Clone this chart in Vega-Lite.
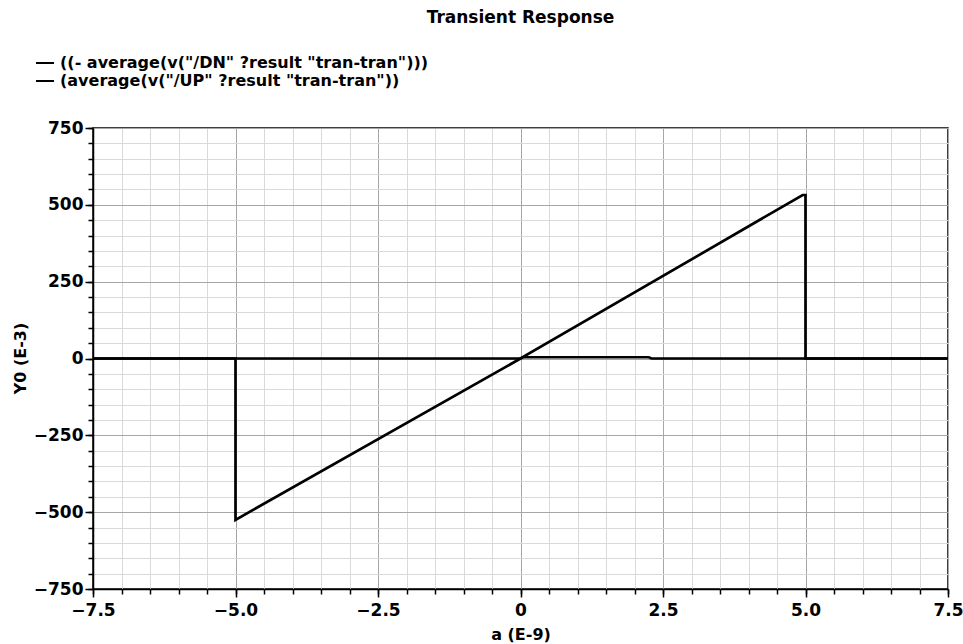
{
  "$schema": "https://vega.github.io/schema/vega-lite/v6.json",
  "autosize": {"type": "none"},
  "width": 855,
  "height": 461,
  "padding": {"left": 93, "top": 128, "right": 15, "bottom": 55},
  "background": "white",
  "title": {
    "text": "Transient Response",
    "anchor": "middle",
    "frame": "group",
    "orient": "top",
    "offset": 26,
    "font": "DejaVu Sans",
    "fontSize": 17,
    "fontWeight": "bold",
    "color": "black"
  },
  "config": {
    "font": "DejaVu Sans",
    "view": {"stroke": "black", "strokeWidth": 1.5}
  },
  "data": {
    "values": [
      {"series": "((- average(v(\"/DN\" ?result \"tran-tran\")))", "i": 1, "a": -7.5, "y": 0},
      {"series": "((- average(v(\"/DN\" ?result \"tran-tran\")))", "i": 2, "a": -5.0, "y": 0},
      {"series": "((- average(v(\"/DN\" ?result \"tran-tran\")))", "i": 3, "a": -5.0, "y": -525},
      {"series": "((- average(v(\"/DN\" ?result \"tran-tran\")))", "i": 4, "a": 0.0, "y": 0},
      {"series": "((- average(v(\"/DN\" ?result \"tran-tran\")))", "i": 5, "a": 0.05, "y": 4},
      {"series": "((- average(v(\"/DN\" ?result \"tran-tran\")))", "i": 6, "a": 2.25, "y": 4},
      {"series": "((- average(v(\"/DN\" ?result \"tran-tran\")))", "i": 7, "a": 2.3, "y": 0},
      {"series": "((- average(v(\"/DN\" ?result \"tran-tran\")))", "i": 8, "a": 7.5, "y": 0},
      {"series": "(average(v(\"/UP\" ?result \"tran-tran\"))", "i": 1, "a": -7.5, "y": 0},
      {"series": "(average(v(\"/UP\" ?result \"tran-tran\"))", "i": 2, "a": 0.0, "y": 0},
      {"series": "(average(v(\"/UP\" ?result \"tran-tran\"))", "i": 3, "a": 4.95, "y": 532},
      {"series": "(average(v(\"/UP\" ?result \"tran-tran\"))", "i": 4, "a": 5.0, "y": 532},
      {"series": "(average(v(\"/UP\" ?result \"tran-tran\"))", "i": 5, "a": 5.0, "y": 0},
      {"series": "(average(v(\"/UP\" ?result \"tran-tran\"))", "i": 6, "a": 7.5, "y": 0}
    ]
  },
  "resolve": {"axis": {"x": "independent", "y": "independent"}},
  "layer": [
    {
      "mark": {"type": "point", "opacity": 0},
      "encoding": {
        "x": {
          "field": "a", "type": "quantitative",
          "scale": {"domain": [-7.5, 7.5], "nice": false, "zero": false},
          "axis": {
            "orient": "bottom",
            "values": [-7.5,-7,-6.5,-6,-5.5,-5,-4.5,-4,-3.5,-3,-2.5,-2,-1.5,-1,-0.5,0,0.5,1,1.5,2,2.5,3,3.5,4,4.5,5,5.5,6,6.5,7,7.5],
            "labels": false, "title": null, "domain": false,
            "grid": true, "gridColor": "#d9d9d9", "gridWidth": 1, "gridOpacity": 1,
            "ticks": true, "tickSize": 5, "tickColor": "black", "tickWidth": 1.5
          }
        },
        "y": {
          "field": "y", "type": "quantitative",
          "scale": {"domain": [-750, 750], "nice": false, "zero": false},
          "axis": {
            "orient": "left",
            "values": [-750,-700,-650,-600,-550,-500,-450,-400,-350,-300,-250,-200,-150,-100,-50,0,50,100,150,200,250,300,350,400,450,500,550,600,650,700,750],
            "labels": false, "title": null, "domain": false,
            "grid": true, "gridColor": "#d9d9d9", "gridWidth": 1, "gridOpacity": 1,
            "ticks": true, "tickSize": 5, "tickColor": "black", "tickWidth": 1.5
          }
        }
      }
    },
    {
      "mark": {"type": "line", "strokeWidth": 2.7, "interpolate": "linear"},
      "encoding": {
        "x": {
          "field": "a", "type": "quantitative",
          "scale": {"domain": [-7.5, 7.5], "nice": false, "zero": false},
          "axis": {
            "orient": "bottom",
            "values": [-7.5, -5, -2.5, 0, 2.5, 5, 7.5],
            "labelExpr": "datum.value == 0 ? '0' : format(datum.value, '.1f')",
            "labelFont": "DejaVu Sans", "labelFontSize": 17, "labelFontWeight": "bold", "labelColor": "black",
            "labelPadding": 5, "labelFlush": false, "labelOverlap": false,
            "domain": true, "domainColor": "black", "domainWidth": 1.5,
            "grid": true, "gridColor": "#a6a6a6", "gridWidth": 1, "gridOpacity": 1,
            "ticks": true, "tickSize": 8, "tickColor": "black", "tickWidth": 1.5,
            "title": "a (E-9)",
            "titleFont": "DejaVu Sans", "titleFontSize": 16, "titleFontWeight": "bold", "titleColor": "black",
            "titleY": 45, "titleBaseline": "middle"
          }
        },
        "y": {
          "field": "y", "type": "quantitative",
          "scale": {"domain": [-750, 750], "nice": false, "zero": false},
          "axis": {
            "orient": "left",
            "values": [-750, -500, -250, 0, 250, 500, 750],
            "format": "d",
            "labelFont": "DejaVu Sans", "labelFontSize": 17, "labelFontWeight": "bold", "labelColor": "black",
            "labelPadding": 2, "labelFlush": false, "labelOverlap": false,
            "domain": true, "domainColor": "black", "domainWidth": 1.5,
            "grid": true, "gridColor": "#a6a6a6", "gridWidth": 1, "gridOpacity": 1,
            "ticks": true, "tickSize": 8, "tickColor": "black", "tickWidth": 1.5,
            "title": "Y0 (E-3)",
            "titleFont": "DejaVu Sans", "titleFontSize": 16, "titleFontWeight": "bold", "titleColor": "black",
            "titleX": -73, "titleY": 230, "titleAngle": -90, "titleAlign": "center", "titleBaseline": "middle"
          }
        },
        "color": {
          "field": "series", "type": "nominal",
          "scale": {
            "domain": ["((- average(v(\"/DN\" ?result \"tran-tran\")))", "(average(v(\"/UP\" ?result \"tran-tran\"))"],
            "range": ["black", "black"]
          },
          "legend": {
            "orient": "none", "legendX": -58, "legendY": -75,
            "title": null, "direction": "vertical",
            "symbolType": "stroke", "symbolSize": 324, "symbolStrokeWidth": 2,
            "labelFont": "DejaVu Sans", "labelFontSize": 16, "labelFontWeight": "bold", "labelColor": "black",
            "labelOffset": 5, "rowPadding": 0, "labelLimit": 600
          }
        },
        "order": {"field": "i", "type": "quantitative"}
      }
    }
  ]
}
